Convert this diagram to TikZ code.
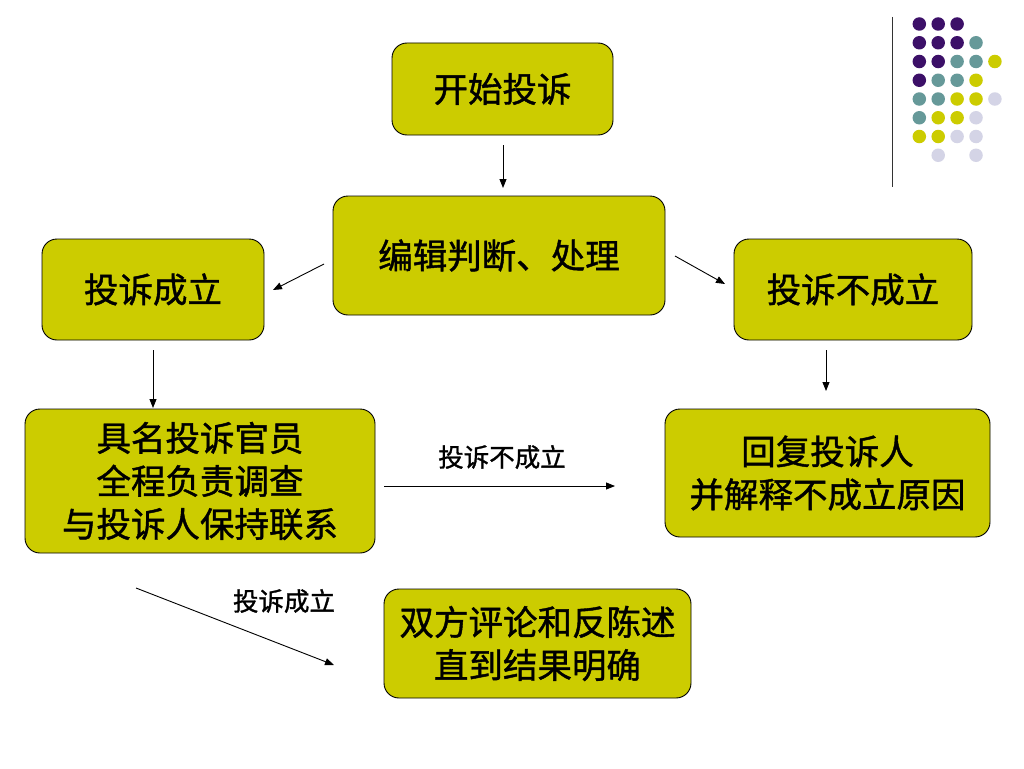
\documentclass[tikz,border=0pt]{standalone}
\usepackage{fontspec}
\newfontfamily\cjk[FakeBold=1.2]{Noto Sans CJK SC}
\usetikzlibrary{arrows.meta}
\definecolor{boxfill}{RGB}{204,204,0}
\definecolor{dotpurple}{RGB}{60,16,104}
\definecolor{dotteal}{RGB}{102,153,153}
\definecolor{dotyellow}{RGB}{204,204,0}
\definecolor{dotlav}{RGB}{212,212,230}
\tikzset{
  box/.style={draw=black, line width=0.9pt, fill=boxfill, rounded corners=15pt,
    align=center, inner sep=0pt, font=\cjk\fontsize{34.5}{43}\selectfont},
  conn/.style={-{Triangle[length=9pt,width=7pt]}, line width=0.9pt},
  lbl/.style={font=\cjk\fontsize{25.5}{28}\selectfont, inner sep=0pt},
  dot/.style={circle, inner sep=0pt, minimum size=13.5pt}
}
\begin{document}
\begin{tikzpicture}[x=1pt,y=-1pt]
\useasboundingbox[fill=white] (0,0) rectangle (1024,768);
% boxes
\node[box, minimum width=221pt, minimum height=92pt] (start) at (502.5,89) {开始投诉};
\node[box, minimum width=332pt, minimum height=119pt] (edit) at (499,255.5) {\raisebox{-3pt}{编辑判断、处理}};
\node[box, minimum width=222pt, minimum height=101pt] (yes) at (153,289.5) {投诉成立};
\node[box, minimum width=238pt, minimum height=101pt] (no) at (853,289.5) {投诉不成立};
\node[box, minimum width=350pt, minimum height=144pt] (officer) at (200,481) {具名投诉官员\\全程负责调查\\与投诉人保持联系};
\node[box, minimum width=325pt, minimum height=128pt] (reply) at (827.5,473) {回复投诉人\\并解释不成立原因};
\node[box, minimum width=307pt, minimum height=109pt] (debate) at (537.5,643.5) {双方评论和反陈述\\直到结果明确};
% free arrow ends
\coordinate (a1s) at (503,145); \coordinate (a1e) at (503,188);
\coordinate (a2s) at (324,264); \coordinate (a2e) at (273,290);
\coordinate (a3s) at (675,256); \coordinate (a3e) at (725,284);
\coordinate (a4s) at (153,350); \coordinate (a4e) at (153,408);
\coordinate (a5s) at (826,350); \coordinate (a5e) at (826,391);
\coordinate (a6s) at (384,486); \coordinate (a6e) at (615,486);
\coordinate (a7s) at (136,588); \coordinate (a7e) at (334,665);
\draw[conn] (a1s) -- (a1e);
\draw[conn] (a2s) -- (a2e);
\draw[conn] (a3s) -- (a3e);
\draw[conn] (a4s) -- (a4e);
\draw[conn] (a5s) -- (a5e);
\draw[conn] (a6s) -- (a6e);
\draw[conn] (a7s) -- (a7e);
\node[lbl] (l1) at (502,457) {投诉不成立};
\node[lbl] (l2) at (284,601) {投诉成立};
% decoration
\draw[line width=1pt, black!80] (892,17) -- (892,187);
\foreach \c/\r/\col in {
 0/0/dotpurple,1/0/dotpurple,2/0/dotpurple,
 0/1/dotpurple,1/1/dotpurple,2/1/dotpurple,3/1/dotteal,
 0/2/dotpurple,1/2/dotpurple,2/2/dotteal,3/2/dotteal,4/2/dotyellow,
 0/3/dotpurple,1/3/dotteal,2/3/dotteal,3/3/dotyellow,
 0/4/dotteal,1/4/dotteal,2/4/dotyellow,3/4/dotyellow,4/4/dotlav,
 0/5/dotteal,1/5/dotyellow,2/5/dotyellow,3/5/dotlav,
 0/6/dotyellow,1/6/dotyellow,2/6/dotlav,3/6/dotlav,
 1/7/dotlav,3/7/dotlav}
 \node[dot, fill=\col] at (919.3+18.9*\c, 24+18.75*\r) {};
\end{tikzpicture}
\end{document}
